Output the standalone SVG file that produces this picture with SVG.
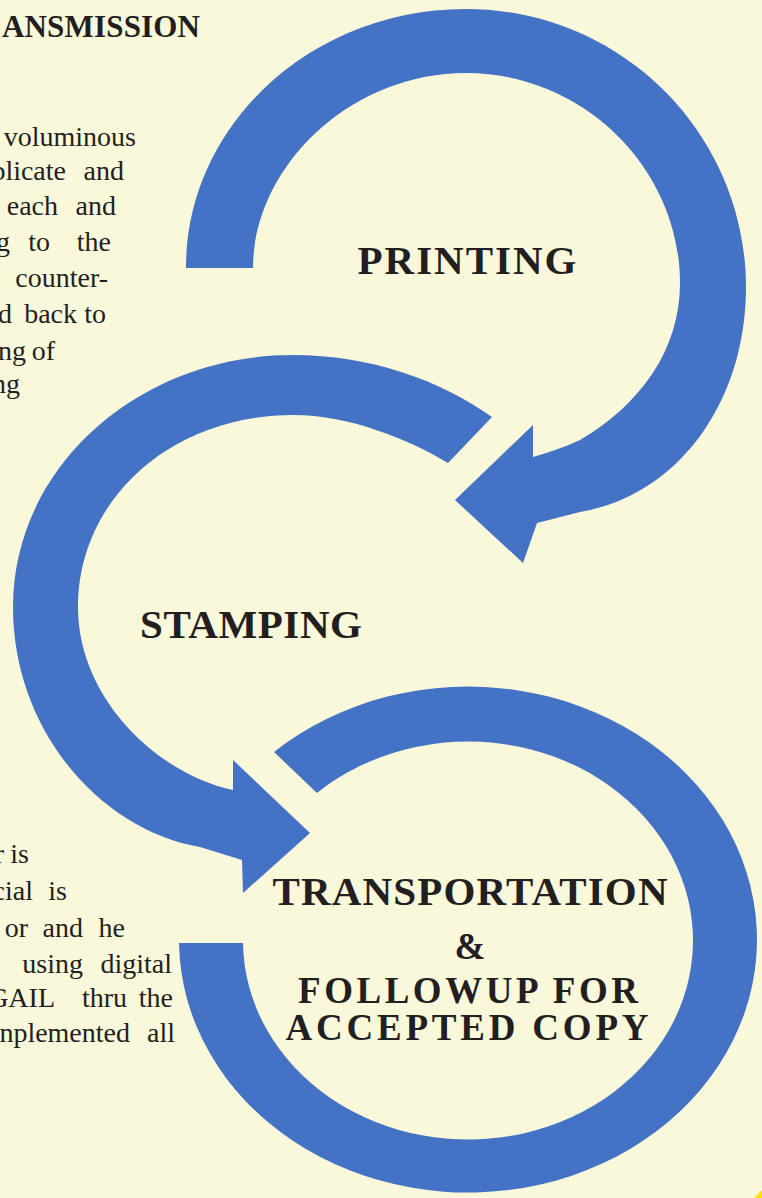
<svg xmlns="http://www.w3.org/2000/svg" width="762" height="1198" viewBox="0 0 762 1198">
<style>
.bg{fill:#FAF8DA}
.arc{fill:#4472C4}
.label{font-family:"Liberation Serif","Times New Roman",serif;font-weight:bold;fill:#231F20;font-size:41px;text-anchor:middle}
.sub{font-size:37px}
.body{font-family:"Liberation Serif","Times New Roman",serif;fill:#231F20;font-size:28px;text-anchor:end}
.head{font-family:"Liberation Serif","Times New Roman",serif;font-weight:bold;fill:#231F20;font-size:31px;text-anchor:end}
</style>
<rect class="bg" x="0" y="0" width="762" height="1198"/>
<polygon points="762,1190 762,1198 754,1198" fill="#FFE000"/>

<g id="connectors">
  <path id="arc-printing" class="arc" d="M186,268 C186,125 311,9 466,9 C621,9 746,134 746,287 C746,400 680,495 580,512 L537,523 L523,563 L455,500 L533,425 L533,457 C550,452 565,447 580,440 C640,405 680,350 680,283 C680,169 584,73 466,73 C348,73 253,169 253,268 Z"/>
  <path id="arc-stamping" class="arc" d="M492,417 C440,380 370,355 293,355 C138,355 13,468 13,607 C13,730 100,830 200,847 L242,860 L243,893 L310,833 L233,760 L233,790 C160,775 78,700 78,607 C78,500 170,415 293,415 C350,415 410,440 448,463 Z"/>
  <path id="arc-transport" class="arc" d="M179,943 A289 253 0 1 0 274,752 L317,793 A225 199 0 1 1 243,943 Z"/>
</g>

<g id="node-printing">
  <text class="label" x="467" y="274" textLength="219" lengthAdjust="spacing">PRINTING</text>
</g>
<g id="node-stamping">
  <text class="label" x="251" y="638" textLength="222" lengthAdjust="spacing">STAMPING</text>
</g>
<g id="node-transportation">
  <text class="label" x="470" y="905" textLength="395" lengthAdjust="spacing">TRANSPORTATION</text>
  <text class="label sub" x="470" y="959">&amp;</text>
  <text class="label sub" x="468" y="1003" textLength="340" lengthAdjust="spacing">FOLLOWUP FOR</text>
  <text class="label sub" x="467" y="1040" textLength="363" lengthAdjust="spacing">ACCEPTED COPY</text>
</g>

<g id="notes-top">
  <text class="head" x="200" y="37" textLength="198" lengthAdjust="spacing">ANSMISSION</text>
  <text class="body" y="146"><tspan x="136">voluminous</tspan></text>
  <text class="body" y="180"><tspan x="66">plicate</tspan><tspan x="124">and</tspan></text>
  <text class="body" y="215"><tspan x="58">each</tspan><tspan x="116">and</tspan></text>
  <text class="body" y="251"><tspan x="10">g</tspan><tspan x="50">to</tspan><tspan x="111">the</tspan></text>
  <text class="body" y="287"><tspan x="108">counter-</tspan></text>
  <text class="body" y="323"><tspan x="12">d</tspan><tspan x="77">back</tspan><tspan x="106">to</tspan></text>
  <text class="body" y="360"><tspan x="26">ng</tspan><tspan x="55">of</tspan></text>
  <text class="body" y="393"><tspan x="20">ng</tspan></text>
</g>

<g id="notes-bottom">
  <text class="body" y="863"><tspan x="4">r</tspan><tspan x="29">is</tspan></text>
  <text class="body" y="900"><tspan x="33">cial</tspan><tspan x="67">is</tspan></text>
  <text class="body" y="937"><tspan x="28">or</tspan><tspan x="83">and</tspan><tspan x="125">he</tspan></text>
  <text class="body" y="973"><tspan x="83">using</tspan><tspan x="172">digital</tspan></text>
  <text class="body" y="1007"><tspan x="55">GAIL</tspan><tspan x="127">thru</tspan><tspan x="173">the</tspan></text>
  <text class="body" y="1042"><tspan x="130">nplemented</tspan><tspan x="175">all</tspan></text>
</g>
</svg>
